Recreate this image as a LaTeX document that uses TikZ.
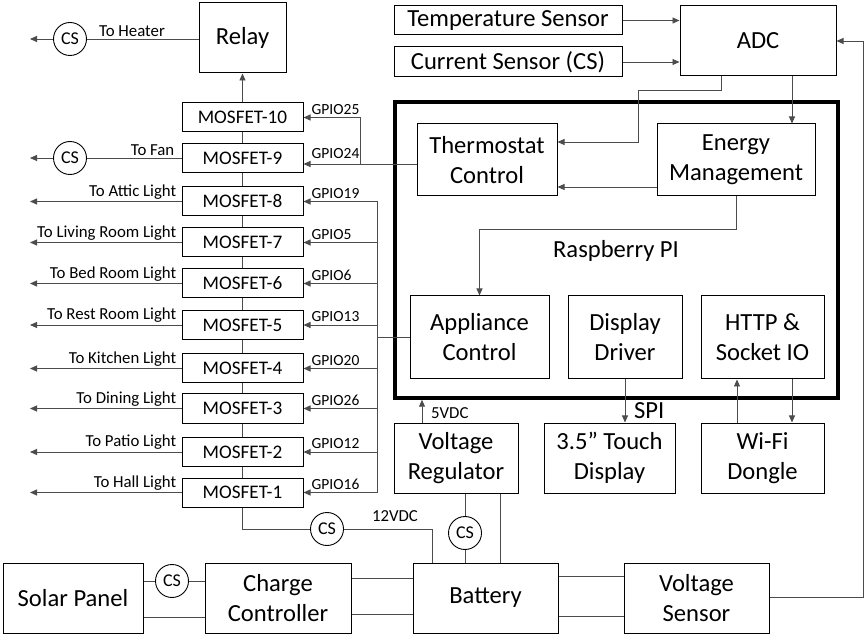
\documentclass[tikz,border=0pt]{standalone}
\usepackage{fontspec}
\setmainfont{Carlito}
\usetikzlibrary{arrows.meta,calc}
\newcommand\fBig{\fontsize{24.6}{30}\selectfont}
\newcommand\fMos{\fontsize{19.2}{22}\selectfont}
\newcommand\fLab{\fontsize{16.8}{19}\selectfont}
\newcommand\fGp{\fontsize{15.5}{18}\selectfont}
\newcommand\fCs{\fontsize{18}{20}\selectfont}
\begin{document}
\begin{tikzpicture}[x=1pt,y=-1pt,
  box/.style={draw, line width=1pt, inner sep=0pt, align=center, font=\fBig},
  sz/.style 2 args={minimum width=#1pt, minimum height=#2pt},
  mos/.style={draw, line width=1pt, inner sep=0pt, minimum width=121pt, minimum height=29pt, font=\fMos},
  csc/.style={draw, circle, line width=0.9pt, inner sep=0pt, minimum size=33pt, font=\fCs},
  conn/.style={draw=black!70, line width=0.9pt},
  arr/.style={conn, -{Triangle[length=7pt,width=6pt]}},
  lbl/.style={font=\fLab, inner sep=1pt},
  gp/.style={font=\fGp, inner sep=1pt}]
\useasboundingbox (0,0) rectangle (868,636);

% ---------- left column ----------
\node[box, sz={87}{70}] (relay) at (242.5,38) {Relay};
\node[mos] (m10) at (242.5,117.5) {MOSFET-10};
\node[mos] (m9) at (242.5,158) {MOSFET-9};
\node[mos] (m8) at (242.5,201.5) {MOSFET-8};
\node[mos] (m7) at (242.5,242.5) {MOSFET-7};
\node[mos] (m6) at (242.5,283.5) {MOSFET-6};
\node[mos] (m5) at (242.5,325) {MOSFET-5};
\node[mos] (m4) at (242.5,368.5) {MOSFET-4};
\node[mos] (m3) at (242.5,408.5) {MOSFET-3};
\node[mos] (m2) at (242.5,452) {MOSFET-2};
\node[mos] (m1) at (242.5,492.5) {MOSFET-1};

\coordinate (lx) at (30,0);
\coordinate (busx) at (377,0);

\foreach \a/\b in {1/2,2/3,3/4,4/5,5/6,6/7,7/8,8/9,9/10}
  \draw[conn] (m\a.north) -- (m\b.south);
\draw[arr] (m10.north) -- (relay.south);

\foreach \n/\lab/\g in {8/To Attic Light/GPIO19, 7/To Living Room Light/GPIO5,
   6/To Bed Room Light/GPIO6, 5/To Rest Room Light/GPIO13, 4/To Kitchen Light/GPIO20,
   3/To Dining Light/GPIO26, 2/To Patio Light/GPIO12, 1/To Hall Light/GPIO16} {
  \draw[arr] (m\n.west) -- (m\n.west -| lx);
  \node[lbl, anchor=south east] at ($(m\n.west)+(-4,-1)$) {\lab};
  \draw[arr] (m\n.east -| busx) -- (m\n.east);
  \node[gp, anchor=south west] at ($(m\n.east)+(7,-2)$) {\g};
}
\draw[conn] (busx |- m8.east) -- (busx |- m1.east);

% heater / fan
\node[csc] (cs1) at (70,39) {CS};
\draw[conn] (cs1.east) -- (cs1 -| relay.west);
\draw[arr] (cs1.west) -- (cs1 -| lx);
\node[lbl, anchor=south] at (132,38) {To Heater};
\node[csc] (cs2) at (70,158) {CS};
\draw[conn] (m9.west) -- (cs2.east);
\draw[arr] (cs2.west) -- (cs2 -| lx);
\node[lbl, anchor=south east] at ($(m9.west)+(-6,-1)$) {To Fan};
\node[gp, anchor=south west] at ($(m10.east)+(7,-2)$) {GPIO25};
\node[gp, anchor=south west] at ($(m9.east)+(7,2)$) {GPIO24};

% ---------- top right ----------
\node[box, sz={228}{29}] (temp) at (508,20.5) {Temperature Sensor};
\node[box, sz={228}{30}] (cursens) at (508,62) {Current Sensor (CS)};
\node[box, sz={156}{70}] (adc) at (758,41) {ADC};
\draw[arr] (temp.east) -- (temp.east -| adc.west);
\draw[arr] (cursens.east) -- (cursens.east -| adc.west);

% ---------- Raspberry Pi ----------
\node[draw, line width=3.5pt, sz={443}{296}, inner sep=0pt] (rpi) at (616.5,250) {};
\node[font=\fBig] (rpilbl) at (616,251) {Raspberry PI};
\node[box, sz={140}{72}] (thermo) at (487,160) {Thermostat\\Control};
\node[box, sz={158}{72}] (energy) at (736,160) {Energy\\Management};
\node[box, sz={139}{83}] (app) at (479.5,337.5) {Appliance\\Control};
\node[box, sz={114}{83}] (driver) at (625,337.5) {Display\\Driver};
\node[box, sz={123}{83}] (http) at (762.5,337.5) {HTTP \&\\Socket IO};

\coordinate (k1) at (638,142);
\draw[arr] ($(adc.south)+(-37,0)$) -- ++(0,14) -| (k1) -- (k1 -| thermo.east);
\coordinate (k2) at (792,0);
\draw[arr] (k2 |- adc.south) -- (k2 |- energy.north);
\coordinate (k3) at (0,187);
\draw[arr] (energy.west |- k3) -- (thermo.east |- k3);
\draw[arr] (energy.south) -- ++(0,33) -| (app.north);

% GPIO 24/25 from thermostat
\coordinate (j24) at (360,164);
\draw[arr] ([yshift=-4pt]thermo.west) -- ([yshift=-4pt]thermo.west -| m9.east);
\draw[arr] (j24) |- (m10.east);
\draw[conn] (app.west) -- (app.west -| busx);

% ---------- lower right ----------
\node[box, sz={124}{70}] (vreg) at (456,458) {Voltage\\Regulator};
\node[box, sz={131}{70}] (touch) at (609.5,458) {3.5” Touch\\Display};
\node[box, sz={123}{70}] (wifi) at (762.5,458) {Wi-Fi\\Dongle};
\coordinate (k4) at (422,0);
\draw[arr] (k4 |- vreg.north) -- (k4 |- rpi.south);
\node[lbl, anchor=west] at (430,413) {5VDC};
\draw[arr] (driver.south) -- (driver.south |- touch.north);
\node[font=\fBig, anchor=west, inner sep=0pt] at (634,411) {SPI};
\coordinate (k5) at (737,0);
\draw[arr] (k5 |- wifi.north) -- (k5 |- http.south);
\coordinate (k6) at (792,0);
\draw[arr] (k6 |- http.south) -- (k6 |- wifi.north);

% ---------- bottom row ----------
\node[box, sz={140}{70}] (solar) at (73,598) {Solar Panel};
\node[box, sz={146}{70}] (cc) at (278,598) {Charge\\Controller};
\node[box, sz={145}{70}] (battery) at (485.5,598) {Battery};
\node[box, sz={145}{70}] (vsens) at (696.5,598) {Voltage\\Sensor};

\node[csc] (cs3) at (172,581) {CS};
\draw[conn] (solar.east |- cs3) -- (cs3.west);
\draw[conn] (cs3.east) -- (cs3 -| cc.west);
\coordinate (k7) at (0,617);
\draw[conn] (solar.east |- k7) -- (cc.west |- k7);
\coordinate (ka) at (0,578);
\coordinate (kb) at (0,614);
\draw[conn] (cc.east |- ka) -- (battery.west |- ka);
\draw[conn] (cc.east |- kb) -- (battery.west |- kb);
\coordinate (kc) at (0,576);
\coordinate (kd) at (0,616);
\draw[conn] (battery.east |- kc) -- (vsens.west |- kc);
\draw[conn] (battery.east |- kd) -- (vsens.west |- kd);
\coordinate (k8) at (863,597);
\draw[arr] (vsens.east |- k8) -- (k8) |- (adc.east);

\node[csc] (cs4) at (327,529) {CS};
\draw[conn] (m1.south) |- (cs4.west);
\coordinate (k9) at (432,0);
\draw[conn] (cs4.east) -| (k9 |- battery.north);
\node[lbl] at (395,516) {12VDC};
\node[csc] (cs5) at (465,533) {CS};
\draw[conn] (cs5.north) -- (cs5.north |- vreg.south);
\draw[conn] (cs5.south) -- (cs5.south |- battery.north);
\coordinate (k10) at (500,0);
\draw[conn] (k10 |- vreg.south) -- (k10 |- battery.north);
\end{tikzpicture}
\end{document}
